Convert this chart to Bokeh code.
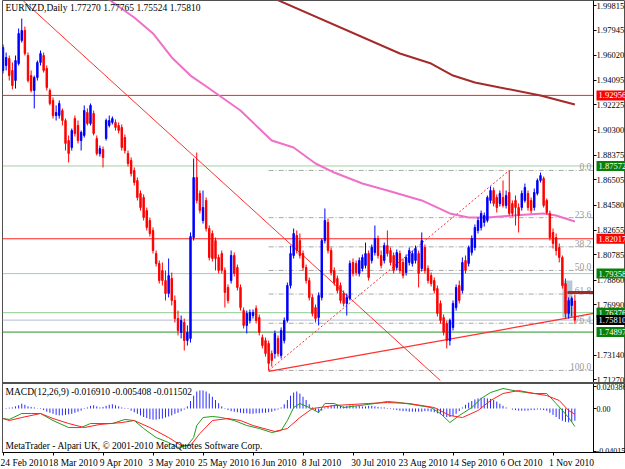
from bokeh.plotting import figure
from bokeh.models import Range1d, FixedTicker, Label, Span, LinearAxis, PrintfTickFormatter
from bokeh.embed import file_html
from bokeh.resources import INLINE
from bokeh.core.properties import value

# ------------------------------------------------------------------ data
header_text = "EURNZD,Daily  1.77270 1.77765 1.75524 1.75810"
macd_title = "MACD(12,26,9) -0.016910 -0.005408 -0.011502"
watermark = "MetaTrader - Alpari UK, \u00a9 2001-2010 MetaQuotes Software Corp."

opens = [
    1.9486, 1.9524, 1.9577, 1.9486, 1.9409, 1.9539, 1.9715, 1.9791, 1.9600, 1.9447,
    1.9333, 1.9432, 1.9547, 1.9600, 1.9501, 1.9333, 1.9257, 1.9142, 1.9142, 1.9180,
    1.9104, 1.8951, 1.8898, 1.9119, 1.9066, 1.8951, 1.8990, 1.9165, 1.9081, 1.9158,
    1.8967, 1.8852, 1.8883, 1.8967, 1.9066, 1.9089, 1.9089, 1.9066, 1.9051, 1.8974,
    1.8852, 1.8799, 1.8723, 1.8646, 1.8547, 1.8517, 1.8417, 1.8341, 1.8265, 1.8089,
    1.8013, 1.7960, 1.7883, 1.7784, 1.7899, 1.7731, 1.7593, 1.7487, 1.7563, 1.7425,
    1.7441, 1.8211, 1.8669, 1.8547, 1.8341, 1.8494, 1.8280, 1.8242, 1.8188, 1.8059,
    1.8089, 1.7960, 1.7830, 1.7883, 1.8074, 1.7983, 1.7830, 1.7654, 1.7540, 1.7578,
    1.7616, 1.7670, 1.7601, 1.7448, 1.7425, 1.7403, 1.7326, 1.7326, 1.7441, 1.7311,
    1.7425, 1.7578, 1.7845, 1.8074, 1.8227, 1.8188, 1.8089, 1.7983, 1.7883, 1.7754,
    1.7677, 1.7601, 1.7754, 1.8188, 1.8326, 1.8112, 1.7960, 1.7899, 1.7845, 1.7784,
    1.7708, 1.7746, 1.8021, 1.8013, 1.7937, 1.7975, 1.7998, 1.8089, 1.8036, 1.8097,
    1.8204, 1.8074, 1.8036, 1.8150, 1.8112, 1.8074, 1.7983, 1.8089, 1.8021, 1.7944,
    1.8021, 1.8013, 1.8036, 1.8089, 1.7975, 1.8135, 1.7975, 1.7921, 1.7883, 1.7822,
    1.7708, 1.7601, 1.7555, 1.7425, 1.7525, 1.7677, 1.7845, 1.7807, 1.8036, 1.8013,
    1.8097, 1.8135, 1.8265, 1.8288, 1.8326, 1.8341, 1.8494, 1.8570, 1.8517, 1.8471,
    1.8517, 1.8456, 1.8555, 1.8471, 1.8494, 1.8440, 1.8440, 1.8494, 1.8547, 1.8494,
    1.8440, 1.8547, 1.8646, 1.8662, 1.8494, 1.8395, 1.8250, 1.8211, 1.8135, 1.8059,
    1.7860, 1.7632, 1.7693, 1.77270,
]
highs = [
    1.9684, 1.9623, 1.9600, 1.9547, 1.9600, 1.9806, 1.9882, 1.9821, 1.9623, 1.9486,
    1.9447, 1.9562, 1.9638, 1.9623, 1.9524, 1.9348, 1.9280, 1.9219, 1.9257, 1.9196,
    1.9119, 1.8990, 1.9043, 1.9142, 1.9104, 1.9028, 1.9219, 1.9196, 1.9234, 1.9180,
    1.8990, 1.8913, 1.8906, 1.9119, 1.9142, 1.9135, 1.9112, 1.9089, 1.9074, 1.8997,
    1.8875, 1.8822, 1.8746, 1.8669, 1.8570, 1.8540, 1.8440, 1.8364, 1.8288, 1.8112,
    1.8036, 1.8021, 1.7960, 1.8051, 1.7944, 1.7769, 1.7654, 1.7616, 1.7593, 1.7540,
    1.8250, 1.8814, 1.8860, 1.8570, 1.8570, 1.8517, 1.8303, 1.8265, 1.8211, 1.8082,
    1.8112, 1.7983, 1.7853, 1.8112, 1.8097, 1.8005, 1.7853, 1.7677, 1.7654, 1.7662,
    1.7662, 1.7693, 1.7624, 1.7471, 1.7448, 1.7425, 1.7349, 1.7502, 1.7464, 1.7525,
    1.7601, 1.7868, 1.8150, 1.8280, 1.8265, 1.8242, 1.8112, 1.8005, 1.7906, 1.7777,
    1.7700, 1.7792, 1.8204, 1.8433, 1.8356, 1.8135, 1.7983, 1.7921, 1.7868, 1.7807,
    1.7784, 1.8036, 1.8051, 1.8036, 1.8059, 1.8082, 1.8173, 1.8112, 1.8158, 1.8303,
    1.8227, 1.8112, 1.8173, 1.8265, 1.8135, 1.8097, 1.8120, 1.8112, 1.8051, 1.8082,
    1.8135, 1.8112, 1.8150, 1.8112, 1.8250, 1.8158, 1.7998, 1.7944, 1.7906, 1.7845,
    1.7731, 1.7624, 1.7578, 1.7593, 1.7731, 1.7853, 1.7883, 1.8059, 1.8074, 1.8150,
    1.8227, 1.8311, 1.8364, 1.8417, 1.8402, 1.8532, 1.8601, 1.8593, 1.8540, 1.8570,
    1.8646, 1.8570, 1.8723, 1.8494, 1.8532, 1.8471, 1.8570, 1.8623, 1.8570, 1.8517,
    1.8585, 1.8662, 1.8707, 1.8677, 1.8509, 1.8417, 1.8280, 1.8242, 1.8166, 1.8074,
    1.7899, 1.7754, 1.7761, 1.77765,
]
lows = [
    1.9463, 1.9486, 1.9409, 1.9341, 1.9348, 1.9524, 1.9699, 1.9600, 1.9394, 1.9318,
    1.9196, 1.9409, 1.9524, 1.9470, 1.9333, 1.9219, 1.9119, 1.9104, 1.9119, 1.9066,
    1.8875, 1.8784, 1.8875, 1.8982, 1.8929, 1.8875, 1.8974, 1.9066, 1.9066, 1.8990,
    1.8837, 1.8829, 1.8746, 1.8951, 1.9051, 1.9074, 1.9028, 1.9005, 1.8875, 1.8852,
    1.8753, 1.8677, 1.8608, 1.8494, 1.8417, 1.8341, 1.8265, 1.8219, 1.8089, 1.7990,
    1.7860, 1.7845, 1.7731, 1.7754, 1.7693, 1.7563, 1.7464, 1.7441, 1.7349, 1.7387,
    1.7410, 1.8188, 1.8471, 1.8395, 1.8318, 1.8257, 1.8036, 1.8028, 1.7960, 1.7937,
    1.7937, 1.7677, 1.7708, 1.7860, 1.7914, 1.7807, 1.7654, 1.7517, 1.7479, 1.7555,
    1.7593, 1.7555, 1.7464, 1.7365, 1.7303, 1.7197, 1.7227, 1.7288, 1.7303, 1.7288,
    1.7403, 1.7563, 1.7822, 1.8051, 1.8089, 1.8051, 1.7960, 1.7860, 1.7731, 1.7609,
    1.7563, 1.7540, 1.7731, 1.8166, 1.8089, 1.7921, 1.7845, 1.7784, 1.7708, 1.7685,
    1.7616, 1.7731, 1.7914, 1.7921, 1.7914, 1.7952, 1.7975, 1.7883, 1.8013, 1.8074,
    1.8051, 1.7975, 1.8013, 1.8066, 1.7998, 1.7937, 1.7960, 1.7937, 1.7899, 1.7921,
    1.7998, 1.7990, 1.8013, 1.7830, 1.7952, 1.7937, 1.7860, 1.7838, 1.7784, 1.7609,
    1.7555, 1.7464, 1.7365, 1.7387, 1.7502, 1.7654, 1.7708, 1.7784, 1.7937, 1.7990,
    1.8074, 1.8112, 1.8242, 1.8265, 1.8295, 1.8326, 1.8471, 1.8448, 1.8402, 1.8448,
    1.8440, 1.8433, 1.8379, 1.8372, 1.8303, 1.8250, 1.8417, 1.8478, 1.8417, 1.8395,
    1.8417, 1.8532, 1.8631, 1.8440, 1.8387, 1.8188, 1.8127, 1.8074, 1.8021, 1.7822,
    1.7593, 1.7593, 1.7609, 1.75524,
]
closes = [
    1.9661, 1.9585, 1.9447, 1.9371, 1.9562, 1.9768, 1.9791, 1.9615, 1.9409, 1.9333,
    1.9432, 1.9547, 1.9615, 1.9486, 1.9356, 1.9234, 1.9142, 1.9165, 1.9234, 1.9104,
    1.8929, 1.8852, 1.9028, 1.9005, 1.8951, 1.9013, 1.9180, 1.9081, 1.9219, 1.9005,
    1.8852, 1.8890, 1.8822, 1.9104, 1.9104, 1.9119, 1.9051, 1.9028, 1.8898, 1.8875,
    1.8776, 1.8700, 1.8631, 1.8517, 1.8440, 1.8364, 1.8288, 1.8242, 1.8112, 1.8013,
    1.7883, 1.7883, 1.7784, 1.7921, 1.7731, 1.7593, 1.7502, 1.7578, 1.7425, 1.7487,
    1.8219, 1.8669, 1.8494, 1.8417, 1.8440, 1.8280, 1.8059, 1.8051, 1.8051, 1.7960,
    1.7960, 1.7792, 1.7731, 1.8074, 1.7937, 1.7830, 1.7677, 1.7540, 1.7632, 1.7639,
    1.7639, 1.7578, 1.7487, 1.7387, 1.7326, 1.7250, 1.7273, 1.7479, 1.7326, 1.7502,
    1.7578, 1.7845, 1.8089, 1.8242, 1.8112, 1.8074, 1.7983, 1.7883, 1.7754, 1.7632,
    1.7593, 1.7769, 1.8188, 1.8341, 1.8112, 1.7944, 1.7868, 1.7807, 1.7731, 1.7708,
    1.7754, 1.8013, 1.7937, 1.7944, 1.8036, 1.8059, 1.8089, 1.7906, 1.8135, 1.8204,
    1.8074, 1.7998, 1.8150, 1.8089, 1.8021, 1.7960, 1.8097, 1.7960, 1.7921, 1.8059,
    1.8112, 1.8089, 1.8127, 1.7937, 1.8188, 1.7960, 1.7883, 1.7860, 1.7807, 1.7632,
    1.7578, 1.7487, 1.7425, 1.7578, 1.7708, 1.7830, 1.7731, 1.8021, 1.7960, 1.8135,
    1.8204, 1.8288, 1.8341, 1.8395, 1.8379, 1.8517, 1.8570, 1.8471, 1.8440, 1.8547,
    1.8456, 1.8532, 1.8395, 1.8395, 1.8440, 1.8379, 1.8547, 1.8593, 1.8440, 1.8417,
    1.8555, 1.8646, 1.8684, 1.8456, 1.8402, 1.8211, 1.8166, 1.8112, 1.8059, 1.7845,
    1.7632, 1.7731, 1.7746, 1.75810,
]

date_bars = [0, 16, 32, 48, 64, 80, 96, 112, 128, 144, 160, 176]
date_labels = ["24 Feb 2010", "18 Mar 2010", "9 Apr 2010", "3 May 2010", "25 May 2010",
               "16 Jun 2010", "8 Jul 2010", "30 Jul 2010", "23 Aug 2010", "14 Sep 2010",
               "6 Oct 2010", "1 Nov 2010"]

price_ticks = [1.99815, 1.97945, 1.96020, 1.94095, 1.92225, 1.90300, 1.88375, 1.86505,
               1.84580, 1.82655, 1.80785, 1.78860, 1.76990, 1.73140, 1.71270]

level_prices = [1.92956, 1.87572, 1.82017, 1.79358, 1.76376, 1.74897]
level_kinds = ["red", "green_dot", "red", "green_dot", "green_light", "green"]
bid_price = 1.75810

ma_pink_bars = [33, 37, 42, 48, 54, 60, 66, 76, 86, 93, 100, 106, 115, 123, 134, 143,
                149, 155, 163, 173, 177, 183]
ma_pink_vals = [2.0043, 1.9974, 1.9890, 1.9768, 1.9585, 1.9447, 1.9348, 1.9180, 1.8951,
                1.8898, 1.8776, 1.8707, 1.8623, 1.8570, 1.8494, 1.8395, 1.8364, 1.8364,
                1.8379, 1.8395, 1.8379, 1.8334]
ma_brown_bars = [86, 127, 137, 144, 151, 159, 172, 183]
ma_brown_vals = [2.0043, 1.9615, 1.9539, 1.9447, 1.9394, 1.9356, 1.9295, 1.9226]

trend_down_bars = [48.2, 133.6]
trend_down_prices = [1.9112, 1.7258]
trend_up_bars = [85.0, 189.0]
trend_up_prices = [1.7190, 1.7632]
fib_bars = [85.0, 162.0]
fib_prices = [1.7197, 1.8723]
fib_levels = [0.0, 23.6, 38.2, 50.0, 61.8, 76.4, 100.0]
zone_bars = [179.0, 182.2]
zone_prices = [1.7601, 1.7883]
order_bar = 180.6
order_price = 1.7792

macd_bars = [0, 2, 6, 9, 12, 16, 21, 25, 28, 31, 35, 39, 42, 45, 49, 53, 56, 59, 61, 62,
             64, 67, 70, 74, 78, 82, 86, 89, 91, 93, 95, 98, 101, 103, 106, 109, 114, 119,
             123, 127, 133, 137, 140, 143, 146, 150, 153, 156, 160, 165, 170, 174, 177,
             181, 183]
macd_vals = [-0.0094, -0.0103, -0.0047, -0.0047, -0.0047, -0.0113, -0.0179, -0.0179,
             -0.0141, -0.0141, -0.0141, -0.0103, -0.0113, -0.0188, -0.0273, -0.0320,
             -0.0367, -0.0348, -0.0273, -0.0160, -0.0085, -0.0075, -0.0085, -0.0113,
             -0.0160, -0.0188, -0.0226, -0.0207, -0.0113, 0.0009, 0.0047, 0.0009,
             -0.0038, 0.0047, 0.0047, 0.0009, 0.0028, 0.0047, 0.0066, 0.0056, 0.0028,
             0.0009, -0.0047, -0.0132, -0.0066, 0.0009, 0.0094, 0.0150, 0.0188, 0.0160,
             0.0141, 0.0141, 0.0047, -0.0085, -0.016910]
signal_bars = [0, 2, 6, 12, 16, 21, 26, 31, 38, 42, 47, 53, 57, 60, 63, 67, 72, 76, 80,
               87, 91, 95, 99, 106, 117, 123, 130, 138, 143, 147, 152, 156, 160, 165, 170,
               174, 178, 181, 183]
signal_vals = [-0.0094, -0.0113, -0.0085, -0.0047, -0.0094, -0.0141, -0.0179, -0.0150,
               -0.0132, -0.0113, -0.0179, -0.0273, -0.0348, -0.0348, -0.0235, -0.0113,
               -0.0094, -0.0113, -0.0160, -0.0216, -0.0188, -0.0085, 0.0, 0.0028, 0.0047,
               0.0056, 0.0047, 0.0009, -0.0066, -0.0085, -0.0019, 0.0075, 0.0141, 0.0169,
               0.0141, 0.0122, 0.0075, -0.0019, -0.005408]
osma = [
    0.0000, 0.0005, 0.0008, 0.0010, 0.0020, 0.0030, 0.0045, 0.0035, 0.0020, 0.0015,
    0.0010, 0.0003, -0.0005, -0.0015, -0.0030, -0.0040, -0.0050, -0.0060, -0.0065, -0.0065,
    -0.0060, -0.0055, -0.0050, -0.0040, -0.0030, -0.0020, -0.0005, 0.0010, 0.0025, 0.0030,
    0.0020, 0.0010, 0.0015, 0.0025, 0.0035, 0.0040, 0.0030, 0.0020, 0.0010, 0.0005,
    -0.0005, -0.0020, -0.0035, -0.0050, -0.0065, -0.0080, -0.0090, -0.0100, -0.0105, -0.0105,
    -0.0100, -0.0095, -0.0085, -0.0075, -0.0065, -0.0050, -0.0040, -0.0025, -0.0010, 0.0020,
    0.0070, 0.0120, 0.0160, 0.0170, 0.0170, 0.0160, 0.0140, 0.0110, 0.0080, 0.0050,
    0.0020, -0.0005, -0.0015, -0.0025, -0.0030, -0.0035, -0.0040, -0.0045, -0.0045, -0.0050,
    -0.0050, -0.0045, -0.0045, -0.0040, -0.0040, -0.0035, -0.0030, -0.0020, -0.0010, 0.0010,
    0.0040, 0.0080, 0.0120, 0.0150, 0.0160, 0.0140, 0.0110, 0.0080, 0.0040, 0.0010,
    -0.0020, -0.0040, -0.0020, 0.0010, 0.0020, 0.0030, 0.0035, 0.0030, 0.0025, 0.0020,
    0.0025, 0.0030, 0.0030, 0.0025, 0.0025, 0.0020, 0.0020, 0.0025, 0.0025, 0.0020,
    0.0015, 0.0010, 0.0010, 0.0005, -0.0005, -0.0010, -0.0015, -0.0020, -0.0025, -0.0025,
    -0.0030, -0.0030, -0.0030, -0.0030, -0.0030, -0.0025, -0.0025, -0.0030, -0.0035, -0.0045,
    -0.0055, -0.0070, -0.0080, -0.0080, -0.0070, -0.0050, -0.0025, 0.0010, 0.0035, 0.0055,
    0.0070, 0.0085, 0.0095, 0.0100, 0.0100, 0.0095, 0.0090, 0.0080, 0.0065, 0.0045,
    0.0025, 0.0010, 0.0000, -0.0010, -0.0015, -0.0020, -0.0020, -0.0020, -0.0020, -0.0015,
    -0.0015, -0.0010, -0.0010, -0.0015, -0.0020, -0.0040, -0.0060, -0.0080, -0.0100, -0.0115,
    -0.0125, -0.0130, -0.0125, -0.011502,
]
macd_ticks = [0.020386, 0.0, -0.04015]
macd_tick_labels = ["0.020386", "0.00", "-0.04015"]

# ------------------------------------------------------------------ layout / style
FONT = "Liberation Sans Narrow"
FS = "9.5px"
AX_FS = "8.5px"
MACD_AX_FS = "8px"
PX_PER_BAR = 3.125
FRAME_W = 623            # frame runs under the price scale too
CHART_W = 591            # drawing area left of the price scale
PRICE_H = 380            # price pane height (px)
MACD_TOP = 384           # MACD pane top (px from frame top)
TOTAL_H = 452            # frame height (both panes)
X0 = -0.16
X1 = X0 + FRAME_W / PX_PER_BAR
X_AXIS = X0 + CHART_W / PX_PER_BAR
X_BOX = X0 + (CHART_W + 3) / PX_PER_BAR
P_TOP, P_LOW = 2.00197, 1.71203          # price pane limits
PPP = (P_TOP - P_LOW) / PRICE_H
P_BOTTOM = P_TOP - TOTAL_H * PPP
M_LOW, M_HIGH = -0.04136, 0.02256        # MACD pane limits
MPP = (M_HIGH - M_LOW) / (TOTAL_H - MACD_TOP)
M_FRAME_TOP = M_LOW + TOTAL_H * MPP

BULL = "#0000ff"
BEAR = "#ff0000"
style = {
    "red": dict(color="#ff2020", dash="solid", box="#ff0000"),
    "green_dot": dict(color="#3aa83a", dash="1 1", box="#0a800a"),
    "green_light": dict(color="#90cc90", dash="solid", box="#0a800a"),
    "green": dict(color="#2a922a", dash="solid", box="#0a800a"),
}

bars = list(range(len(closes)))
cols = [BULL if c >= o else BEAR for o, c in zip(opens, closes)]
tops = [max(o, c) for o, c in zip(opens, closes)]
bots = [min(o, c) for o, c in zip(opens, closes)]


def style_axis(ax, size, standoff=0):
    ax.major_tick_out = 3
    ax.major_tick_in = 0
    ax.minor_tick_out = 0
    ax.minor_tick_in = 0
    ax.major_label_standoff = standoff
    ax.axis_line_color = "black"
    ax.major_tick_line_color = "black"
    ax.major_label_text_font = FONT
    ax.major_label_text_font_size = size
    ax.major_label_text_color = "black"


p = figure(frame_width=FRAME_W, frame_height=TOTAL_H,
           x_range=Range1d(X0, X1), y_range=Range1d(P_BOTTOM, P_TOP),
           output_backend="svg", toolbar_location=None,
           x_axis_location="below", y_axis_location="right",
           min_border_left=2, min_border_right=0, min_border_top=0, min_border_bottom=0,
           background_fill_color="white", border_fill_color="white",
           outline_line_color="#505050")
p.extra_y_ranges = {"macd": Range1d(M_LOW, M_FRAME_TOP)}
p.grid.visible = False

# price scale
yax = p.yaxis[0]
yax.fixed_location = X_AXIS
yax.ticker = FixedTicker(ticks=price_ticks)
yax.formatter = PrintfTickFormatter(format="%.5f")
style_axis(yax, AX_FS)

# MACD scale
may = LinearAxis(y_range_name="macd", fixed_location=X_AXIS,
                 ticker=FixedTicker(ticks=macd_ticks))
may.major_label_overrides = {t: s for t, s in zip(macd_ticks, macd_tick_labels)}
style_axis(may, MACD_AX_FS)
p.add_layout(may, "right")

# date scale
CHAR_W = 3.7
centers = [b + len(s) * CHAR_W / 2.0 / PX_PER_BAR for b, s in zip(date_bars, date_labels)]
xax = p.xaxis[0]
xax.ticker = FixedTicker(ticks=centers, minor_ticks=date_bars)
xax.major_label_overrides = {c: s for c, s in zip(centers, date_labels)}
style_axis(xax, FS, 2)
xax.major_tick_out = 0
xax.minor_tick_out = 3
xax.minor_tick_line_color = "black"

# pane separator
p.add_layout(Span(location=P_TOP - (PRICE_H + 2.5) * PPP, dimension="width",
                  line_color="#505050", line_width=2))

# ---------------- price pane
p.quad(left=[zone_bars[0]], right=[zone_bars[1]], bottom=[zone_prices[0]], top=[zone_prices[1]],
       fill_color="#b4c8dc", line_color=None)

for lvl, kind in zip(level_prices, level_kinds):
    st = style[kind]
    p.segment(x0=[X0], x1=[X_AXIS], y0=[lvl], y1=[lvl], line_color=st["color"],
              line_dash=st["dash"], line_width=1)
p.segment(x0=[X0], x1=[X_AXIS], y0=[bid_price], y1=[bid_price], line_color="#b8bccc", line_width=1)

fib_hi, fib_lo = fib_prices[1], fib_prices[0]
fib_vals = [fib_hi - lv / 100.0 * (fib_hi - fib_lo) for lv in fib_levels]
p.segment(x0=[fib_bars[0]] * len(fib_vals), x1=[X_AXIS] * len(fib_vals), y0=fib_vals, y1=fib_vals,
          line_color="#a8a8a8", line_dash="5 2 1 2", line_width=1)
p.text(x=[X_AXIS - 0.7] * len(fib_vals), y=fib_vals, text=[f"{lv:.1f}" for lv in fib_levels],
       text_align="right", text_baseline="bottom", text_color="#9a9a9a",
       text_font=value(FONT), text_font_size=FS)
p.line(fib_bars, fib_prices, line_color="#ff3030", line_dash="2 2", line_width=1)

# falling trend line, extended across the price pane
g = (trend_down_prices[1] - trend_down_prices[0]) / (trend_down_bars[1] - trend_down_bars[0])
xa = trend_down_bars[0] + (P_TOP - trend_down_prices[0]) / g
xb = trend_down_bars[0] + (P_LOW - trend_down_prices[0]) / g
p.segment(x0=[xa], x1=[xb], y0=[P_TOP], y1=[P_LOW], line_color="#ff3030", line_width=1)
p.line(trend_up_bars, trend_up_prices, line_color="#ff3030", line_width=1.3)

p.line(ma_pink_bars, ma_pink_vals, line_color="#f070c8", line_width=2)
p.line(ma_brown_bars, ma_brown_vals, line_color="#a52a2a", line_width=2)

p.segment(x0=[order_bar], x1=[X_AXIS], y0=[order_price], y1=[order_price],
          line_color="#a52a2a", line_width=3)

p.segment(x0=bars, x1=bars, y0=lows, y1=highs, line_color=cols, line_width=1)
p.vbar(x=bars, width=0.45, top=tops, bottom=bots, fill_color=cols, line_color=cols, line_width=1)

p.add_layout(Label(x=3, y=TOTAL_H - 2, x_units="screen", y_units="screen", text=header_text,
                   text_baseline="top", text_font=FONT, text_font_size=FS, text_color="black"))

for lvl, kind in zip(level_prices, level_kinds):
    p.add_layout(Label(x=X_BOX, y=lvl, text=f"{lvl:.5f}", text_color="white",
                       text_baseline="middle", text_font=FONT, text_font_size=AX_FS,
                       background_fill_color=style[kind]["box"], padding=2))
p.add_layout(Label(x=X_BOX, y=bid_price, text=f"{bid_price:.5f}", text_color="white",
                   text_baseline="middle", text_font=FONT, text_font_size=AX_FS,
                   background_fill_color="black", padding=2))

# ---------------- MACD pane
p.segment(x0=bars, x1=bars, y0=[0.0] * len(osma), y1=osma, line_color="#2a2aff",
          line_width=1, y_range_name="macd")
p.line(macd_bars, macd_vals, line_color="#1e9e1e", line_width=1, y_range_name="macd")
p.line(signal_bars, signal_vals, line_color="#ff2020", line_width=1, y_range_name="macd")

p.add_layout(Label(x=3, y=TOTAL_H - MACD_TOP - 2, x_units="screen", y_units="screen",
                   text=macd_title, text_baseline="top", text_font=FONT, text_font_size=FS,
                   text_color="black"))
p.add_layout(Label(x=3, y=2, x_units="screen", y_units="screen", text=watermark,
                   text_baseline="bottom", text_font=FONT, text_font_size=FS, text_color="black"))

html = file_html(p, INLINE, title="EURNZD Daily")
html = html.replace("<head>", "<head><style>html,body{margin:0;padding:0;overflow:hidden;}</style>", 1)
open("out.html", "w").write(html)
